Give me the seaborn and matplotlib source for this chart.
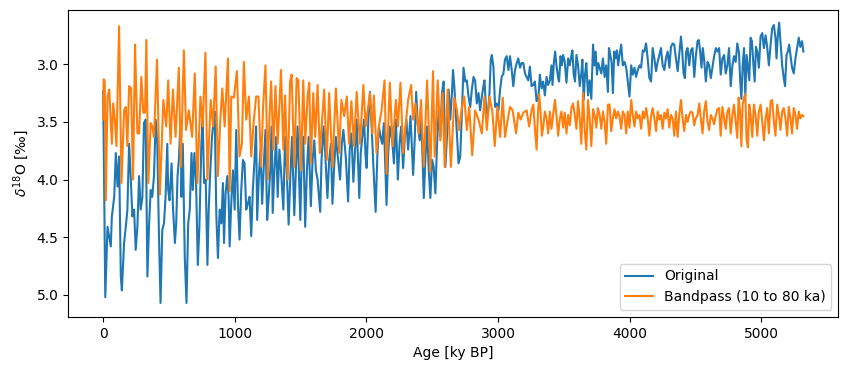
import matplotlib
matplotlib.use('Agg')
import matplotlib.pyplot as plt
import seaborn as sns

# (age [ky BP], d18O [permil])
original = [
    (0, 3.23), (16, 5.02), (33, 4.41), (58, 4.58), (66, 4.32), (84, 4.15), (96, 3.77),
    (109, 4.06), (121, 3.80), (134, 4.84), (142, 4.96), (159, 4.55), (172, 4.41), (184, 4.26),
    (197, 3.69), (210, 4.00), (222, 4.32), (235, 4.26), (247, 4.61), (260, 4.41), (273, 3.97),
    (285, 4.26), (298, 4.15), (310, 3.51), (323, 3.48), (336, 4.84), (348, 4.41), (361, 4.09),
    (373, 4.15), (386, 3.97), (399, 3.48), (411, 3.69), (424, 4.49), (436, 5.07), (449, 4.44),
    (462, 4.38), (474, 4.15), (487, 3.69), (494, 4.09), (504, 4.18), (520, 3.86), (530, 4.23),
    (545, 4.55), (555, 4.38), (565, 3.97), (575, 3.83), (588, 3.48), (595, 4.15), (605, 3.69),
    (620, 4.67), (633, 5.07), (646, 4.38), (658, 4.26), (671, 3.77), (681, 4.09), (693, 3.77),
    (706, 4.03), (719, 4.74), (731, 4.41), (746, 3.69), (756, 3.48), (767, 4.03), (779, 4.00),
    (792, 4.74), (802, 4.26), (812, 3.97), (827, 3.63), (840, 3.48), (847, 3.41), (860, 4.32),
    (872, 4.68), (885, 4.26), (898, 4.38), (910, 4.03), (918, 4.55), (930, 4.12), (943, 3.97),
    (953, 4.15), (961, 4.58), (973, 4.21), (986, 3.92), (999, 4.26), (1011, 3.57), (1024, 4.21),
    (1036, 4.52), (1049, 4.09), (1062, 3.83), (1074, 3.86), (1087, 4.26), (1099, 4.21),
    (1112, 4.15), (1125, 4.49), (1137, 4.09), (1150, 3.83), (1162, 3.54), (1170, 4.35),
    (1183, 3.97), (1195, 3.74), (1208, 4.21), (1220, 3.89), (1233, 3.57), (1246, 4.35),
    (1258, 4.15), (1271, 3.89), (1281, 3.54), (1288, 4.29), (1301, 3.92), (1314, 3.63),
    (1326, 4.15), (1339, 3.74), (1351, 3.92), (1369, 4.26), (1382, 3.63), (1394, 3.89),
    (1409, 4.39), (1422, 3.97), (1435, 3.63), (1452, 4.31), (1465, 3.89), (1477, 3.54),
    (1498, 4.35), (1508, 3.83), (1520, 3.63), (1535, 4.41), (1548, 3.92), (1561, 3.63),
    (1578, 4.23), (1591, 3.83), (1604, 3.66), (1616, 3.92), (1629, 4.00), (1649, 4.28),
    (1659, 3.83), (1674, 3.54), (1687, 3.77), (1704, 4.16), (1717, 3.83), (1730, 3.69),
    (1742, 4.21), (1755, 3.89), (1768, 3.63), (1780, 3.77), (1800, 4.00), (1813, 3.69),
    (1825, 3.57), (1843, 3.80), (1861, 4.19), (1873, 3.74), (1886, 3.60), (1901, 4.02),
    (1914, 3.74), (1926, 3.48), (1946, 4.16), (1957, 3.77), (1969, 3.63), (1982, 3.48),
    (1994, 3.80), (2002, 3.90), (2015, 3.48), (2027, 3.24), (2040, 3.54), (2052, 3.86),
    (2070, 4.28), (2083, 3.80), (2095, 3.54), (2108, 3.63), (2120, 3.69), (2133, 3.51),
    (2153, 4.22), (2166, 3.77), (2178, 3.54), (2196, 3.66), (2209, 3.86), (2224, 3.48),
    (2239, 4.00), (2252, 3.69), (2264, 3.54), (2279, 3.90), (2292, 3.63), (2304, 3.48),
    (2317, 3.74), (2335, 3.45), (2355, 3.96), (2368, 3.63), (2378, 3.24), (2390, 3.51),
    (2405, 3.66), (2418, 3.48), (2436, 4.16), (2448, 3.83), (2461, 3.54), (2474, 3.92),
    (2486, 4.16), (2499, 3.83), (2511, 3.89), (2524, 4.12), (2537, 3.69), (2549, 3.40),
    (2562, 3.63), (2574, 3.25), (2587, 3.15), (2600, 3.89), (2612, 3.63), (2625, 3.22),
    (2637, 3.48), (2650, 3.25), (2658, 3.05), (2668, 3.19), (2675, 3.34), (2688, 3.63),
    (2700, 3.86), (2713, 3.80), (2726, 3.40), (2738, 3.03), (2751, 3.15), (2763, 3.14),
    (2776, 3.28), (2789, 3.37), (2801, 3.22), (2814, 3.11), (2826, 3.14), (2839, 3.34),
    (2852, 3.25), (2864, 3.40), (2877, 3.28), (2889, 3.19), (2897, 3.14), (2910, 3.40),
    (2922, 3.45), (2935, 3.25), (2945, 2.96), (2953, 2.92), (2965, 3.02), (2978, 3.37),
    (2990, 3.34), (3003, 3.40), (3016, 3.22), (3028, 3.11), (3041, 3.08), (3053, 2.96),
    (3066, 2.93), (3079, 3.05), (3091, 2.93), (3104, 3.05), (3116, 3.19), (3129, 3.05),
    (3142, 2.99), (3154, 2.95), (3167, 3.03), (3179, 2.99), (3192, 2.99), (3205, 3.08),
    (3217, 3.11), (3230, 3.14), (3242, 3.02), (3255, 3.19),
    (3268, 3.18), (3280, 3.15), (3293, 3.32), (3306, 3.30), (3318, 3.09), (3331, 3.21),
    (3343, 3.15), (3356, 3.27), (3369, 3.11), (3381, 3.18), (3394, 3.14), (3406, 3.01),
    (3414, 3.18), (3424, 2.99), (3434, 2.89), (3444, 3.01), (3457, 3.12), (3464, 3.15),
    (3475, 2.93), (3485, 3.01), (3495, 2.92), (3507, 2.98), (3520, 3.16), (3533, 2.95),
    (3545, 3.01), (3558, 2.92), (3565, 2.88), (3575, 3.09), (3585, 3.15), (3596, 2.92),
    (3608, 3.01), (3621, 3.19), (3633, 3.08), (3641, 2.96), (3651, 3.31), (3661, 3.09),
    (3671, 2.99), (3684, 3.27), (3696, 3.14), (3709, 3.30), (3722, 2.83), (3732, 3.01),
    (3742, 2.89), (3752, 3.09), (3762, 2.99), (3772, 3.03), (3785, 3.08), (3797, 2.95),
    (3810, 3.11), (3822, 3.01), (3835, 3.24), (3843, 2.86), (3853, 2.92), (3863, 2.98),
    (3873, 3.25), (3883, 2.89), (3893, 2.95), (3903, 2.88), (3913, 3.01), (3923, 2.92),
    (3936, 2.83), (3948, 3.01), (3961, 2.98), (3974, 3.03), (3986, 3.15), (3999, 3.28),
    (4012, 3.01), (4024, 3.09), (4037, 3.03), (4049, 3.11), (4062, 3.05), (4075, 3.01),
    (4087, 3.03), (4100, 2.88), (4112, 2.89), (4125, 2.82), (4137, 2.95), (4150, 3.12),
    (4163, 3.15), (4175, 2.86), (4188, 2.95), (4201, 3.06), (4213, 2.98), (4226, 2.92),
    (4238, 2.86), (4251, 3.01), (4264, 3.05), (4276, 2.95), (4289, 2.89), (4302, 3.03),
    (4314, 2.85), (4327, 2.82), (4339, 2.83), (4352, 2.95), (4365, 3.06), (4377, 2.92),
    (4390, 2.76), (4400, 2.89), (4410, 3.08), (4420, 3.12), (4430, 2.89), (4440, 2.86),
    (4453, 3.01), (4465, 2.88), (4478, 2.86), (4491, 3.11), (4503, 2.93), (4516, 2.80),
    (4526, 2.79), (4536, 2.89), (4546, 3.03), (4556, 2.86), (4566, 2.96), (4579, 3.15),
    (4592, 2.98), (4604, 3.01), (4617, 3.12), (4629, 3.03), (4642, 2.93), (4655, 2.86),
    (4667, 2.89), (4680, 2.86), (4692, 3.09), (4705, 2.95), (4718, 2.92), (4730, 3.08),
    (4743, 3.01), (4755, 2.86), (4768, 3.19), (4781, 3.01), (4793, 2.93), (4806, 2.98),
    (4818, 2.82), (4831, 2.90), (4839, 3.12), (4849, 3.30), (4859, 3.01), (4869, 2.86),
    (4879, 3.28), (4889, 2.92), (4899, 3.03), (4909, 3.14), (4919, 2.77), (4929, 2.80),
    (4939, 2.98), (4950, 3.15), (4960, 2.85), (4970, 2.89), (4982, 3.03), (4995, 2.76),
    (5008, 2.73), (5020, 2.86), (5033, 2.75), (5045, 2.85), (5058, 3.01), (5071, 2.83),
    (5083, 2.69), (5096, 2.66), (5108, 2.77), (5116, 2.95), (5126, 2.75), (5136, 2.64),
    (5146, 2.80), (5159, 3.01), (5171, 3.12), (5181, 3.19), (5192, 2.92), (5202, 2.89),
    (5212, 2.83), (5222, 2.92), (5234, 3.03), (5247, 3.08), (5260, 2.95), (5272, 2.86),
    (5285, 2.77), (5297, 2.85), (5310, 2.80), (5320, 2.89),
]

# bandpass filtered record (10 to 80 ka)
bandpass = [
    (0, 3.48), (4, 3.13), (12, 3.15), (20, 4.18), (33, 3.28), (46, 3.22), (66, 3.69),
    (76, 3.34), (89, 3.48), (101, 3.71), (121, 2.67), (139, 4.03), (159, 3.40), (172, 3.37),
    (184, 3.71), (197, 3.19), (212, 3.21), (227, 4.00), (242, 2.83), (260, 3.60), (273, 3.60),
    (290, 3.11), (305, 3.42), (318, 3.42), (328, 2.79), (343, 4.03), (361, 3.51), (373, 3.54),
    (386, 3.63), (409, 2.96), (431, 4.13), (457, 3.31), (479, 3.54), (494, 3.14), (512, 3.69),
    (530, 3.22), (550, 3.63), (575, 3.03), (590, 3.89), (613, 2.88), (630, 3.57), (651, 3.40),
    (676, 3.63), (696, 3.08), (716, 4.03), (739, 3.28), (756, 3.54), (777, 2.90), (792, 4.00),
    (817, 3.31), (835, 3.54), (855, 3.02), (872, 3.97), (890, 3.48), (905, 3.21), (923, 3.54),
    (948, 2.95), (961, 4.10), (973, 3.28), (993, 3.29), (1016, 3.06), (1036, 3.80),
    (1054, 3.69), (1069, 2.98), (1087, 3.48), (1107, 3.28), (1125, 3.80), (1145, 3.48),
    (1162, 3.28), (1180, 3.28), (1200, 3.89), (1215, 3.37), (1233, 3.01), (1251, 4.00),
    (1263, 3.48), (1276, 3.15), (1293, 3.74), (1309, 3.19), (1326, 3.69), (1351, 3.05),
    (1369, 3.74), (1382, 3.27), (1402, 4.00), (1420, 3.15), (1432, 3.09), (1452, 3.89),
    (1470, 3.12), (1483, 3.14), (1503, 3.92), (1520, 3.14), (1535, 3.69), (1553, 3.28),
    (1566, 3.16), (1578, 3.86), (1596, 3.25), (1611, 3.63), (1629, 3.18), (1646, 3.77),
    (1679, 3.22), (1699, 3.83), (1717, 3.25), (1742, 3.89), (1768, 3.21), (1793, 3.77),
    (1810, 3.31), (1831, 3.45), (1851, 3.28), (1868, 3.69), (1886, 3.32), (1906, 3.71),
    (1926, 3.24), (1951, 3.69), (1977, 3.18), (1994, 3.54), (2027, 3.25), (2045, 3.60),
    (2057, 3.27), (2077, 3.77), (2095, 3.54), (2115, 3.40), (2138, 3.14), (2153, 3.95),
    (2178, 3.16), (2199, 3.71), (2224, 3.31), (2239, 3.54), (2259, 3.16), (2279, 3.77),
    (2297, 3.54), (2317, 3.31), (2340, 3.18), (2355, 3.48), (2372, 3.34), (2398, 3.60),
    (2415, 3.31), (2436, 3.89), (2461, 3.14), (2486, 3.93), (2506, 3.06), (2519, 3.80),
    (2542, 3.14), (2562, 3.66), (2579, 3.25), (2595, 3.89), (2617, 3.22), (2642, 3.89),
    (2668, 3.29), (2688, 3.40), (2705, 3.57), (2726, 3.37), (2743, 3.28), (2763, 3.57),
    (2781, 3.37), (2804, 3.79), (2826, 3.40), (2852, 3.48), (2877, 3.60), (2897, 3.28),
    (2915, 3.57), (2935, 3.28), (2958, 3.42), (2975, 3.71), (2995, 3.37), (3016, 3.63),
    (3036, 3.29), (3053, 3.63), (3074, 3.48), (3091, 3.37), (3111, 3.40), (3137, 3.60),
    (3154, 3.42), (3172, 3.48), (3192, 3.42), (3217, 3.40), (3237, 3.54), (3255, 3.40),
    (3268, 3.35), (3280, 3.55), (3293, 3.74), (3303, 3.44), (3313, 3.26), (3323, 3.41),
    (3333, 3.62), (3343, 3.55), (3356, 3.41), (3369, 3.47), (3381, 3.60), (3394, 3.41),
    (3406, 3.56), (3419, 3.44), (3432, 3.31), (3444, 3.44), (3457, 3.62), (3470, 3.47),
    (3482, 3.41), (3495, 3.55), (3507, 3.42), (3520, 3.60), (3533, 3.44), (3545, 3.53),
    (3558, 3.38), (3570, 3.34), (3583, 3.44), (3596, 3.56), (3608, 3.32), (3621, 3.47),
    (3633, 3.69), (3646, 3.25), (3659, 3.58), (3671, 3.74), (3684, 3.31), (3696, 3.47),
    (3709, 3.71), (3722, 3.39), (3734, 3.44), (3747, 3.55), (3759, 3.38), (3772, 3.44),
    (3785, 3.56), (3797, 3.41), (3810, 3.50), (3822, 3.69), (3835, 3.35), (3848, 3.35),
    (3860, 3.58), (3873, 3.47), (3885, 3.39), (3898, 3.47), (3911, 3.41), (3923, 3.45),
    (3936, 3.56), (3948, 3.41), (3961, 3.44), (3974, 3.60), (3986, 3.41), (3999, 3.55),
    (4012, 3.31), (4024, 3.44), (4037, 3.54), (4049, 3.41), (4062, 3.47), (4075, 3.44),
    (4087, 3.56), (4100, 3.41), (4112, 3.47), (4125, 3.38), (4137, 3.47), (4150, 3.62),
    (4163, 3.45), (4175, 3.38), (4188, 3.47), (4201, 3.58), (4213, 3.41), (4226, 3.48),
    (4238, 3.44), (4251, 3.56), (4264, 3.42), (4276, 3.47), (4289, 3.39), (4301, 3.55),
    (4314, 3.44), (4327, 3.47), (4339, 3.62), (4352, 3.41), (4365, 3.63), (4377, 3.44),
    (4390, 3.31), (4402, 3.47), (4415, 3.58), (4428, 3.44), (4440, 3.50), (4453, 3.44),
    (4465, 3.41), (4478, 3.42), (4491, 3.53), (4503, 3.47), (4516, 3.44), (4529, 3.34),
    (4541, 3.47), (4554, 3.60), (4566, 3.41), (4579, 3.32), (4592, 3.50), (4604, 3.57),
    (4617, 3.44), (4629, 3.47), (4642, 3.52), (4655, 3.44), (4667, 3.39), (4680, 3.38),
    (4692, 3.62), (4705, 3.37), (4718, 3.47), (4730, 3.56), (4743, 3.41), (4755, 3.38),
    (4768, 3.60), (4781, 3.44), (4793, 3.35), (4806, 3.50), (4818, 3.64), (4828, 3.29),
    (4839, 3.41), (4849, 3.71), (4859, 3.35), (4869, 3.29), (4879, 3.26), (4889, 3.66),
    (4899, 3.72), (4909, 3.35), (4919, 3.44), (4932, 3.63), (4944, 3.35), (4957, 3.44),
    (4970, 3.62), (4982, 3.41), (4995, 3.35), (5008, 3.50), (5020, 3.66), (5033, 3.47),
    (5045, 3.38), (5058, 3.60), (5071, 3.32), (5083, 3.31), (5096, 3.50), (5108, 3.62),
    (5121, 3.35), (5134, 3.44), (5146, 3.57), (5159, 3.41), (5171, 3.38), (5184, 3.47),
    (5197, 3.62), (5209, 3.37), (5222, 3.47), (5234, 3.60), (5247, 3.38), (5260, 3.44),
    (5272, 3.56), (5285, 3.41), (5297, 3.47), (5310, 3.44), (5320, 3.45),
]

orig_age, orig_d18o = zip(*original)
band_age, band_d18o = zip(*bandpass)

fig, ax = plt.subplots(figsize=(8.52, 3.71), dpi=100)
fig.subplots_adjust(left=0.08, right=0.984, top=0.973, bottom=0.146)

sns.lineplot(x=list(orig_age), y=list(orig_d18o), ax=ax, color='C0', label='Original',
             estimator=None, sort=False)
sns.lineplot(x=list(band_age), y=list(band_d18o), ax=ax, color='C1',
             label='Bandpass (10 to 80 ka)', estimator=None, sort=False)

ax.set_xlim(-266, 5586)
ax.set_ylim(5.19, 2.53)
ax.set_xlabel('Age [ky BP]')
ax.set_ylabel(r'$\delta^{18}$O [‰]')
ax.legend(loc='lower right')

fig.savefig('out.png', dpi=100)
